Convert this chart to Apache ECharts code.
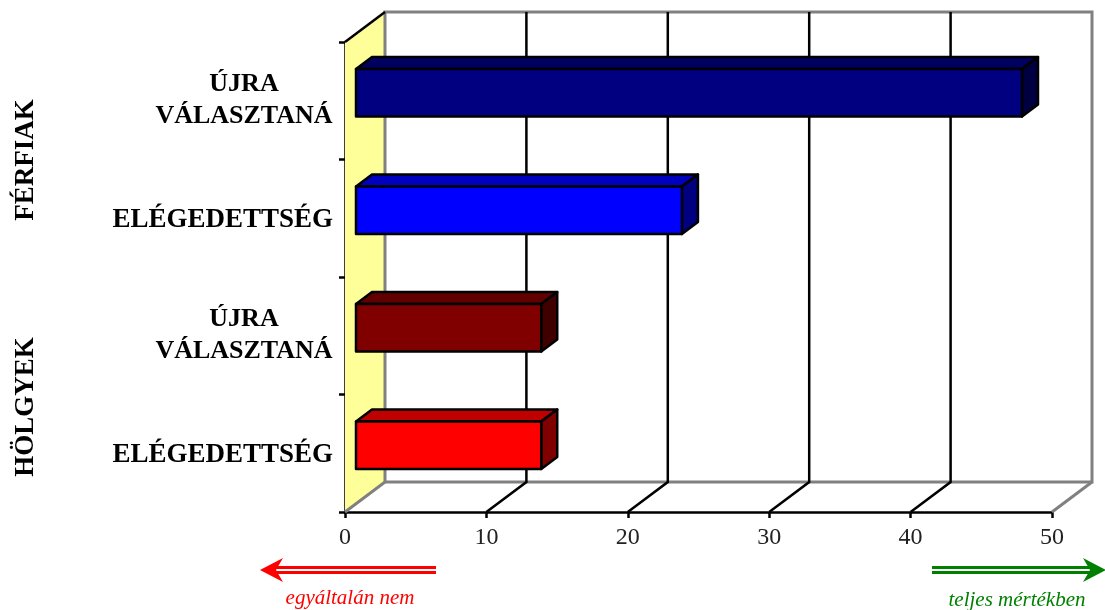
<!DOCTYPE html>
<html>
<head>
<meta charset="utf-8">
<style>html,body{margin:0;padding:0;background:#fff}#chart{width:1105px;height:610px}</style>
<script src="https://cdn.jsdelivr.net/npm/echarts@6/dist/echarts.min.js"></script>
</head>
<body>
<div id="chart"></div>
<script>
// Ratings per group, listed from the top row down
const categories = ['ÚJRA\nVÁLASZTANÁ', 'ELÉGEDETTSÉG', 'ÚJRA\nVÁLASZTANÁ', 'ELÉGEDETTSÉG'];
const values = [47.1, 23.05, 13.1, 13.1];
const gridValues = [10, 20, 30, 40];
const groupLabels = ['FÉRFIAK', 'HÖLGYEK'];
const scaleLow = 'egyáltalán nem';
const scaleHigh = 'teljes mértékben';

// Face colours of each bar: front, top, side
const barFaces = [
  ['#000080', '#000060', '#000040'],
  ['#0000ff', '#0000bf', '#000080'],
  ['#800000', '#600000', '#400000'],
  ['#ff0000', '#bf0000', '#800000']
];

const SERIF = '"Liberation Serif", serif';
const BLACK = '#000';
const GREY = '#808080';
const LINE_W = 2.5;
// Oblique projection of the chart box and of the bars inside it
const WALL_DX = 40, WALL_DY = -30;
const BAR_DX = 11, BAR_DY = -8;
const BAR_DEPTH_X = 16, BAR_DEPTH_Y = -12;
const BAR_RATIO = 0.405;

function poly(points, fill, stroke, width) {
  return {
    type: 'polygon',
    shape: { points },
    style: { fill: fill, stroke: stroke, lineWidth: width, lineJoin: 'round' }
  };
}
function line(points, stroke, width) {
  return {
    type: 'polyline',
    shape: { points },
    style: { fill: 'none', stroke: stroke, lineWidth: width }
  };
}

// Side wall, back wall and floor outline
function renderWalls(params) {
  const c = params.coordSys;
  const l = c.x, r = c.x + c.width, t = c.y, b = c.y + c.height;
  const bl = l + WALL_DX, br = r + WALL_DX, bt = t + WALL_DY, bb = b + WALL_DY;
  return {
    type: 'group',
    children: [
      poly([[l, t], [bl, bt], [bl, bb], [l, b]], '#ffff99', 'none', 0),
      line([[bl, bb], [bl, bt], [br, bt], [br, bb], [bl, bb]], GREY, 3),
      line([[l, b], [bl, bb]], GREY, 3),
      line([[r, b], [br, bb]], GREY, 3),
      line([[l, t], [bl, bt]], BLACK, LINE_W)
    ]
  };
}

// Gridline running across the floor and up the back wall
function renderGridLine(params, api) {
  const c = params.coordSys;
  const x = api.coord([api.value(0), 0])[0];
  const b = c.y + c.height;
  return line([[x, b], [x + WALL_DX, b + WALL_DY], [x + WALL_DX, c.y + WALL_DY]], BLACK, LINE_W);
}

// Extruded bar: top and side faces behind the front rectangle
function renderBar(params, api) {
  const i = params.dataIndex;
  const end = api.coord([api.value(0), i]);
  const start = api.coord([0, i]);
  const h = api.size([0, 1])[1] * BAR_RATIO;
  const x0 = start[0] + BAR_DX, x1 = end[0] + BAR_DX;
  const y0 = end[1] + BAR_DY - h / 2, y1 = y0 + h;
  const dx = BAR_DEPTH_X, dy = BAR_DEPTH_Y;
  const faces = barFaces[i];
  return {
    type: 'group',
    children: [
      poly([[x0, y0], [x0 + dx, y0 + dy], [x1 + dx, y0 + dy], [x1, y0]], faces[1], BLACK, LINE_W),
      poly([[x1, y0], [x1 + dx, y0 + dy], [x1 + dx, y1 + dy], [x1, y1]], faces[2], BLACK, LINE_W),
      poly([[x0, y0], [x1, y0], [x1, y1], [x0, y1]], faces[0], BLACK, LINE_W)
    ]
  };
}

// Double-shafted scale arrow, pointing from tailX towards tipX
function arrow(tailX, tipX, y, color) {
  const dir = tipX > tailX ? 1 : -1;
  const left = Math.min(tailX, tipX - dir * 16);
  const width = Math.abs(tipX - tailX) - 16;
  return [
    { type: 'rect', silent: true, shape: { x: left, y: y - 4, width: width, height: 3 }, style: { fill: color } },
    { type: 'rect', silent: true, shape: { x: left, y: y + 1, width: width, height: 3 }, style: { fill: color } },
    { type: 'polygon', silent: true, shape: { points: [[tipX, y], [tipX - dir * 23, y - 12], [tipX - dir * 16, y], [tipX - dir * 23, y + 12]] }, style: { fill: color } }
  ];
}

function sideLabel(text, y) {
  return {
    type: 'text', x: 26, y: y, rotation: Math.PI / 2,
    style: { text: text, font: 'bold 27px ' + SERIF, fill: '#000', textAlign: 'center', textVerticalAlign: 'middle' }
  };
}
function scaleText(text, x, y, color) {
  return {
    type: 'text', x: x, y: y,
    style: { text: text, font: 'italic 21px ' + SERIF, fill: color, textAlign: 'center', textVerticalAlign: 'middle' }
  };
}

const chart = echarts.init(document.getElementById('chart'), null, { renderer: 'canvas' });
chart.setOption({
  animation: false,
  backgroundColor: '#fff',
  grid: { left: 345, right: 53, top: 42, bottom: 98, containLabel: false },
  xAxis: {
    type: 'value', min: 0, max: 50, interval: 10, position: 'bottom',
    axisLine: { show: true, onZero: false, lineStyle: { color: BLACK, width: LINE_W } },
    axisTick: { show: true, length: 6, lineStyle: { color: BLACK, width: LINE_W } },
    axisLabel: { margin: 14, color: '#222', fontFamily: SERIF, fontSize: 24 },
    splitLine: { show: false }
  },
  yAxis: {
    type: 'category', data: categories, inverse: true,
    axisLine: { show: true, onZero: false, lineStyle: { color: BLACK, width: LINE_W } },
    axisTick: { show: true, length: 6, lineStyle: { color: BLACK, width: LINE_W } },
    axisLabel: {
      margin: 12, align: 'right', color: '#000', fontFamily: SERIF, fontWeight: 'bold',
      fontSize: 27, lineHeight: 32,
      formatter: v => v.includes('\n') ? v.split('\n').map(s => '{c|' + s + '}').join('\n') : '{s|' + v + '}',
      rich: {
        c: { width: 178, align: 'center', fontFamily: SERIF, fontWeight: 'bold', fontSize: 26, lineHeight: 32, color: '#000' },
        s: { fontFamily: SERIF, fontWeight: 'bold', fontSize: 27, lineHeight: 36, color: '#000', padding: [4, 0, 0, 0] }
      }
    }
  },
  series: [
    { type: 'custom', renderItem: renderWalls, data: [0], silent: true, z: 1 },
    { type: 'custom', renderItem: renderGridLine, data: gridValues, silent: true, z: 2 },
    { type: 'custom', renderItem: renderBar, data: values, silent: true, z: 3 }
  ],
  graphic: [
    sideLabel(groupLabels[0], 160),
    sideLabel(groupLabels[1], 407),
    ...arrow(436, 260, 570, '#ff0000'),
    ...arrow(932, 1106, 570, '#008000'),
    scaleText(scaleLow, 350, 598, '#ff0000'),
    scaleText(scaleHigh, 1017, 600, '#008000')
  ]
});
</script>
</body>
</html>
